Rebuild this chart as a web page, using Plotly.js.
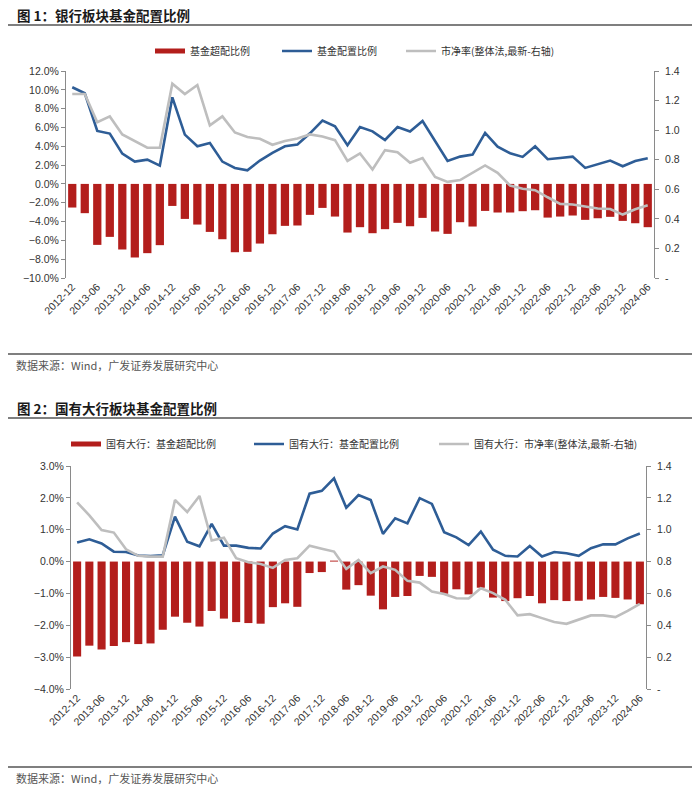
<!DOCTYPE html>
<html><head><meta charset="utf-8">
<script src="https://cdn.plot.ly/plotly-3.0.1.min.js"></script>
<style>html,body{margin:0;padding:0;background:#fff;} #chart{width:700px;height:791px;}</style>
</head><body><div id="chart"></div>
<script>
const quarters = ["2012-12","2013-03","2013-06","2013-09","2013-12","2014-03","2014-06","2014-09","2014-12","2015-03","2015-06","2015-09","2015-12","2016-03","2016-06","2016-09","2016-12","2017-03","2017-06","2017-09","2017-12","2018-03","2018-06","2018-09","2018-12","2019-03","2019-06","2019-09","2019-12","2020-03","2020-06","2020-09","2020-12","2021-03","2021-06","2021-09","2021-12","2022-03","2022-06","2022-09","2022-12","2023-03","2023-06","2023-09","2023-12","2024-03","2024-06"];

// 图1 银行板块 (%)
const bankOverweight = [-2.51,-3.11,-6.48,-5.63,-6.97,-7.82,-7.36,-6.51,-2.34,-3.72,-4.32,-5.10,-5.88,-7.26,-7.22,-6.34,-5.35,-4.46,-4.42,-3.29,-2.55,-3.47,-5.17,-4.60,-5.24,-4.81,-4.14,-4.50,-3.61,-5.06,-5.31,-4.07,-4.53,-2.87,-3.04,-3.04,-2.90,-2.80,-3.58,-3.47,-3.36,-3.82,-3.65,-3.50,-3.93,-4.18,-4.60];
const bankAllocation = [10.27,9.63,5.63,5.35,3.22,2.37,2.58,1.95,9.20,5.24,4.00,4.35,2.37,1.70,1.45,2.48,3.29,4.00,4.18,5.38,6.73,6.12,4.11,6.05,5.59,4.67,6.05,5.56,6.69,4.50,2.44,2.90,3.12,5.42,3.96,3.26,2.87,4.00,2.62,2.76,2.90,1.70,2.05,2.48,1.88,2.44,2.73];
const bankPB = [1.244,1.244,1.054,1.093,0.971,0.926,0.881,0.881,1.314,1.244,1.305,1.032,1.093,0.984,0.953,0.942,0.901,0.926,0.944,0.971,0.957,0.932,0.792,0.842,0.734,0.865,0.851,0.779,0.811,0.684,0.650,0.662,0.711,0.761,0.711,0.625,0.603,0.594,0.546,0.501,0.497,0.481,0.470,0.467,0.429,0.465,0.492];

// 图2 国有大行板块 (%)
const bigOverweight = [-2.98,-2.64,-2.76,-2.65,-2.53,-2.59,-2.57,-2.14,-1.73,-1.92,-2.04,-1.55,-1.79,-1.90,-1.93,-1.95,-1.43,-1.31,-1.42,-0.36,-0.33,0.03,-0.88,-0.74,-1.07,-1.50,-1.11,-1.08,-0.45,-0.48,-1.01,-0.87,-1.03,-0.82,-1.13,-1.24,-1.15,-1.08,-1.31,-1.21,-1.24,-1.23,-1.19,-1.11,-1.14,-1.19,-1.34];
const bigAllocation = [0.60,0.70,0.57,0.31,0.30,0.19,0.17,0.20,1.41,0.62,0.48,1.18,0.50,0.50,0.43,0.41,0.88,1.11,1.01,2.13,2.22,2.61,1.69,2.09,1.93,0.87,1.36,1.20,1.99,1.81,0.92,0.76,0.52,0.94,0.37,0.18,0.16,0.49,0.16,0.30,0.26,0.18,0.42,0.54,0.54,0.73,0.88];
const bigPB = [1.172,1.090,0.998,0.982,0.877,0.836,0.831,0.831,1.187,1.111,1.212,0.932,0.950,0.821,0.796,0.785,0.760,0.810,0.821,0.900,0.881,0.863,0.754,0.810,0.727,0.769,0.748,0.679,0.668,0.612,0.597,0.570,0.568,0.633,0.602,0.560,0.462,0.470,0.445,0.420,0.409,0.434,0.462,0.462,0.451,0.491,0.535];

const xTickLabels = quarters.filter((q, i) => i % 2 === 0);
const pbTickVals = [0, 0.2, 0.4, 0.6, 0.8, 1.0, 1.2, 1.4];
const pbTickText = ["-", "0.2", "0.4", "0.6", "0.8", "1.0", "1.2", "1.4"];
const legendNames1 = ["基金超配比例", "基金配置比例", "市净率(整体法,最新-右轴)"];
const legendNames2 = ["国有大行：基金超配比例", "国有大行：基金配置比例", "国有大行：市净率(整体法,最新-右轴)"];
const titles = ["<b>图 1：银行板块基金配置比例</b>", "<b>图 2：国有大行板块基金配置比例</b>"];
const sourceText = "数据来源：Wind，广发证券发展研究中心";

const W = 700, H = 791;
const px = x => x / W, py = y => 1 - y / H;
const RED = "#B31E1C", BLUE = "#2E5D96", GRAY = "#BEBEBE", AX = "#8A8A8A";
const CJK = "Noto Sans CJK SC, sans-serif";
const LAT = "Liberation Sans, Arial, sans-serif";
const tickFont = {family: LAT, size: 10.5, color: "#333"};

function zeroPos(dom, rng) { return dom[0] + (0 - rng[0]) / (rng[1] - rng[0]) * (dom[1] - dom[0]); }

const c1 = {x: [px(66), px(654)], y: [py(278), py(71)], yr: [-10, 12], dtick: 2};
const c2 = {x: [px(71), px(646)], y: [py(689), py(466)], yr: [-4, 3], dtick: 1};

function makeTraces(xa, ya, ya2, lgs, names, over, alloc, pb) {
  return [
    {type: "bar", x: quarters, y: over, xaxis: xa, yaxis: ya, marker: {color: RED}, showlegend: false, hoverinfo: "x+y"},
    {type: "scatter", mode: "lines", x: [null], y: [null], xaxis: xa, yaxis: ya, name: names[0], legend: lgs[0], line: {color: RED, width: 5}},
    {type: "scatter", mode: "lines", x: quarters, y: alloc, xaxis: xa, yaxis: ya, name: names[1], legend: lgs[1], line: {color: BLUE, width: 2.6}},
    {type: "scatter", mode: "lines", x: quarters, y: pb, xaxis: xa, yaxis: ya2, name: names[2], legend: lgs[2], line: {color: GRAY, width: 2.6}}
  ];
}

const data = [].concat(
  makeTraces("x", "y", "y2", ["legend", "legend2", "legend3"], legendNames1, bankOverweight, bankAllocation, bankPB),
  makeTraces("x2", "y3", "y4", ["legend4", "legend5", "legend6"], legendNames2, bigOverweight, bigAllocation, bigPB)
);

function catAxis(dom, anchor) {
  return {domain: dom, anchor: anchor, type: "category", categoryorder: "array", categoryarray: quarters,
    range: [-0.5, quarters.length - 0.5], tickmode: "array", tickvals: xTickLabels, ticktext: xTickLabels,
    tickangle: -45, ticks: "", showline: false, showgrid: false, zeroline: false, tickfont: tickFont, fixedrange: true};
}
function zeroAxis(dom, over, pos) {
  return {domain: dom, overlaying: over, anchor: "free", position: pos, type: "linear",
    range: [-0.5, quarters.length - 0.5], tickmode: "linear", tick0: -0.5, dtick: 1,
    ticks: "outside", ticklen: 3, tickcolor: AX, showline: true, linecolor: AX, linewidth: 1,
    showticklabels: false, showgrid: false, zeroline: false, fixedrange: true};
}
function pctAxis(dom, rng, dtick, anchor) {
  return {domain: dom, anchor: anchor, range: rng, dtick: dtick, tick0: 0, tickformat: ".1f", ticksuffix: "%",
    showline: true, linecolor: AX, ticks: "outside", ticklen: 4, tickcolor: AX, showgrid: false, zeroline: false,
    tickfont: tickFont, fixedrange: true};
}
function pbAxis(over, anchor) {
  return {overlaying: over, anchor: anchor, side: "right", range: [0, 1.4], tickmode: "array",
    tickvals: pbTickVals, ticktext: pbTickText, showline: true, linecolor: AX, ticks: "outside", ticklen: 4,
    tickcolor: AX, showgrid: false, zeroline: false, tickfont: tickFont, ticklabelstandoff: 4, fixedrange: true};
}

function leg(xPix, yPix) {
  return {orientation: "h", xanchor: "left", yanchor: "middle", bgcolor: "rgba(0,0,0,0)",
    font: {family: CJK, size: 10, color: "#333"}, itemwidth: 30, x: px(xPix), y: py(yPix)};
}

const layout = {
  width: W, height: H, margin: {l: 0, r: 0, t: 0, b: 0},
  paper_bgcolor: "#fff", plot_bgcolor: "rgba(0,0,0,0)", bargap: 0.34, showlegend: true,
  xaxis: catAxis(c1.x, "y"),
  yaxis: pctAxis(c1.y, c1.yr, c1.dtick, "x"),
  yaxis2: pbAxis("y", "x"),
  xaxis3: zeroAxis(c1.x, "x", zeroPos(c1.y, c1.yr)),
  xaxis2: catAxis(c2.x, "y3"),
  yaxis3: pctAxis(c2.y, c2.yr, c2.dtick, "x2"),
  yaxis4: pbAxis("y3", "x2"),
  xaxis4: zeroAxis(c2.x, "x2", zeroPos(c2.y, c2.yr)),
  legend: leg(150, 51), legend2: leg(277, 51), legend3: leg(401, 51),
  legend4: leg(66, 444), legend5: leg(249, 444), legend6: leg(434, 444),
  annotations: [
    {text: titles[0], xref: "paper", yref: "paper", x: px(15), y: py(15), xanchor: "left", yanchor: "middle", showarrow: false, font: {family: CJK, size: 13.5, color: "#1a1a1a"}},
    {text: sourceText, xref: "paper", yref: "paper", x: px(14), y: py(365), xanchor: "left", yanchor: "middle", showarrow: false, font: {family: CJK, size: 11, color: "#555"}},
    {text: titles[1], xref: "paper", yref: "paper", x: px(15), y: py(408), xanchor: "left", yanchor: "middle", showarrow: false, font: {family: CJK, size: 13.5, color: "#1a1a1a"}},
    {text: sourceText, xref: "paper", yref: "paper", x: px(14), y: py(778), xanchor: "left", yanchor: "middle", showarrow: false, font: {family: CJK, size: 11, color: "#555"}}
  ],
  shapes: [
    {type: "line", xref: "paper", yref: "paper", x0: px(8), x1: px(692), y0: py(25), y1: py(25), line: {color: "#555", width: 1.5}},
    {type: "line", xref: "paper", yref: "paper", x0: px(8), x1: px(692), y0: py(354), y1: py(354), line: {color: "#555", width: 1.5}},
    {type: "line", xref: "paper", yref: "paper", x0: px(8), x1: px(692), y0: py(418), y1: py(418), line: {color: "#555", width: 1.5}},
    {type: "line", xref: "paper", yref: "paper", x0: px(8), x1: px(692), y0: py(767), y1: py(767), line: {color: "#555", width: 1.5}}
  ]
};

Plotly.newPlot("chart", data, layout, {displayModeBar: false, staticPlot: true});
</script></body></html>
